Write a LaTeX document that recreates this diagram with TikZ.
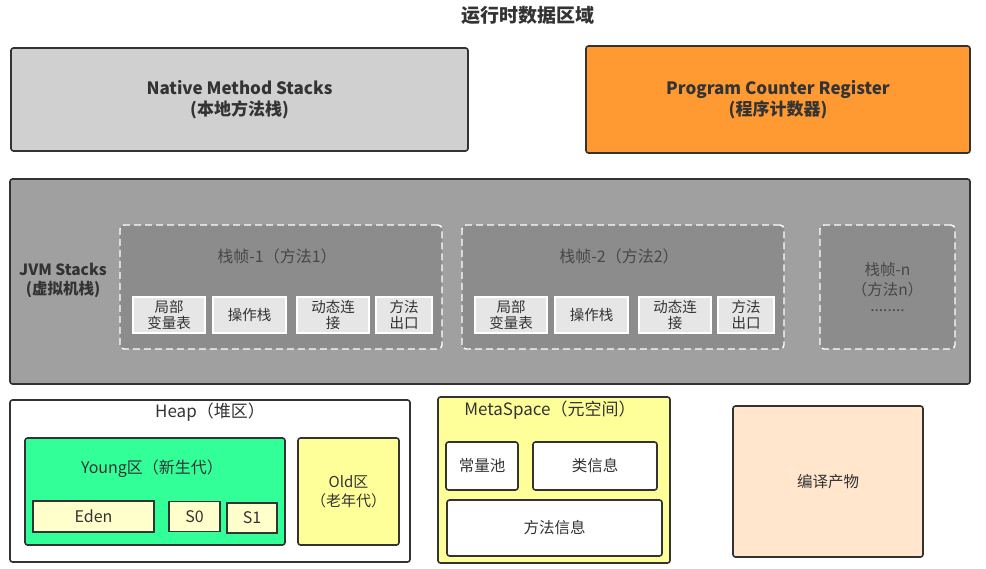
\documentclass[tikz,border=0pt]{standalone}
\usepackage{fontspec}
\setmainfont{Noto Sans CJK SC}
\usepackage{xcolor}
\usepackage{tikz}
\usetikzlibrary{positioning, calc}

\definecolor{nativegray}{HTML}{D0D0D0}
\definecolor{pcorange}{HTML}{FF9A33}
\definecolor{jvmgray}{HTML}{A0A0A0}
\definecolor{framegray}{HTML}{8C8C8C}
\definecolor{slotgray}{HTML}{E6E6E6}
\definecolor{younggreen}{HTML}{33FF99}
\definecolor{paleyellow}{HTML}{FFFFCC}
\definecolor{oldyellow}{HTML}{FFFF99}
\definecolor{peach}{HTML}{FFE6CC}
\definecolor{edgegray}{HTML}{333333}
\definecolor{textgray}{HTML}{333333}

\begin{document}
\begin{tikzpicture}[x=1pt, y=-1pt, thick,
    area/.style={rectangle, draw=edgegray, line width=1.6pt, rounded corners=2.5pt, inner sep=0pt, align=center, text=textgray},
    frame/.style={rectangle, draw=white, dashed, dash pattern=on 7pt off 4pt, line width=1.4pt, rounded corners=4pt, fill=framegray, inner sep=0pt},
    slot/.style={rectangle, draw=white, line width=1.2pt, fill=slotgray, inner sep=0pt, minimum height=36pt, align=center, font=\fontsize{14.5}{16}\selectfont, text=textgray},
    lbl/.style={align=center, inner sep=0pt, text=textgray, font=\fontsize{16}{19}\selectfont}]
    \useasboundingbox (0,0) rectangle (986,569);

    \node (Title) at (528,15) [font=\bfseries\fontsize{19}{21}\selectfont, text=textgray] {运行时数据区域};

    % top row
    \node (Native) at (239.5,99.5) [area, fill=nativegray, minimum width=457pt, minimum height=103pt, font=\bfseries\fontsize{17}{21}\selectfont] {Native Method Stacks\\(本地方法栈)};
    \node (PCR) at (778,99.5) [area, fill=pcorange, minimum width=384pt, minimum height=107pt, font=\bfseries\fontsize{17}{21}\selectfont] {Program Counter Register\\(程序计数器)};

    % JVM stacks
    \node (JVM) at (490,281.5) [area, fill=jvmgray, minimum width=960pt, minimum height=205pt] {};
    \node (JVMLabel) at (63,280) [lbl, font=\bfseries\fontsize{15.5}{19}\selectfont] {JVM Stacks\\(虚拟机栈)};

    \node (Frame1) at (281,287) [frame, minimum width=322pt, minimum height=124pt] {};
    \node (Frame1Title) at (277,256) [lbl, text=black!72] {栈帧-1（方法1）};
    \node (Local1) at (169,315) [slot, minimum width=72pt] {局部\\变量表};
    \node (Operand1) at (249.5,315) [slot, minimum width=73pt] {操作栈};
    \node (Link1) at (333,315) [slot, minimum width=72pt] {动态连\\接};
    \node (Exit1) at (404,315) [slot, minimum width=56pt] {方法\\出口};

    \node (Frame2) at (623,287) [frame, minimum width=322pt, minimum height=124pt] {};
    \node (Frame2Title) at (619,256) [lbl, text=black!72] {栈帧-2（方法2）};
    \node (Local2) at (511,315) [slot, minimum width=72pt] {局部\\变量表};
    \node (Operand2) at (591.5,315) [slot, minimum width=73pt] {操作栈};
    \node (Link2) at (675,315) [slot, minimum width=72pt] {动态连\\接};
    \node (Exit2) at (746,315) [slot, minimum width=56pt] {方法\\出口};

    \node (FrameN) at (887.5,287) [frame, minimum width=135pt, minimum height=124pt, align=center, text=black!72, font=\fontsize{15.5}{20}\selectfont] {栈帧-n\\（方法n）\\[-4pt]........};

    % heap
    \node (Heap) at (210,481) [area, fill=white, minimum width=400pt, minimum height=162pt] {};
    \node (HeapTitle) at (210,412) [lbl, font=\fontsize{17}{19}\selectfont] {Heap（堆区）};
    \node (Young) at (155,491.5) [area, fill=younggreen, minimum width=260pt, minimum height=107pt] {};
    \node (YoungTitle) at (152,469) [lbl] {Young区（新生代）};
    \node (Eden) at (93.5,516.5) [area, fill=paleyellow, minimum width=121pt, minimum height=31pt, rounded corners=0pt, font=\fontsize{16}{17}\selectfont] {Eden};
    \node (S0) at (194.5,516.5) [area, fill=paleyellow, minimum width=51pt, minimum height=30pt, rounded corners=0pt, font=\fontsize{16}{17}\selectfont] {S0};
    \node (S1) at (252,518) [area, fill=paleyellow, minimum width=50pt, minimum height=30pt, rounded corners=0pt, font=\fontsize{16}{17}\selectfont] {S1};
    \node (Old) at (348.5,491.5) [area, fill=oldyellow, minimum width=101pt, minimum height=107pt, font=\fontsize{15}{19}\selectfont] {Old区\\（老年代）};

    % metaspace
    \node (Meta) at (554,480) [area, fill=oldyellow, minimum width=232pt, minimum height=166pt] {};
    \node (MetaTitle) at (550,410) [lbl, font=\fontsize{17}{19}\selectfont] {MetaSpace（元空间）};
    \node (ConstPool) at (482,466) [area, fill=white, minimum width=72pt, minimum height=48pt, font=\fontsize{15.5}{17}\selectfont] {常量池};
    \node (ClassInfo) at (595,466) [area, fill=white, minimum width=124pt, minimum height=48pt, font=\fontsize{15.5}{17}\selectfont] {类信息};
    \node (MethodInfo) at (554.5,528) [area, fill=white, minimum width=215pt, minimum height=56pt, font=\fontsize{15.5}{17}\selectfont] {方法信息};

    % compiled output
    \node (Compiled) at (828,481.5) [area, fill=peach, minimum width=190pt, minimum height=151pt, font=\fontsize{15.5}{17}\selectfont] {编译产物};
\end{tikzpicture}
\end{document}
